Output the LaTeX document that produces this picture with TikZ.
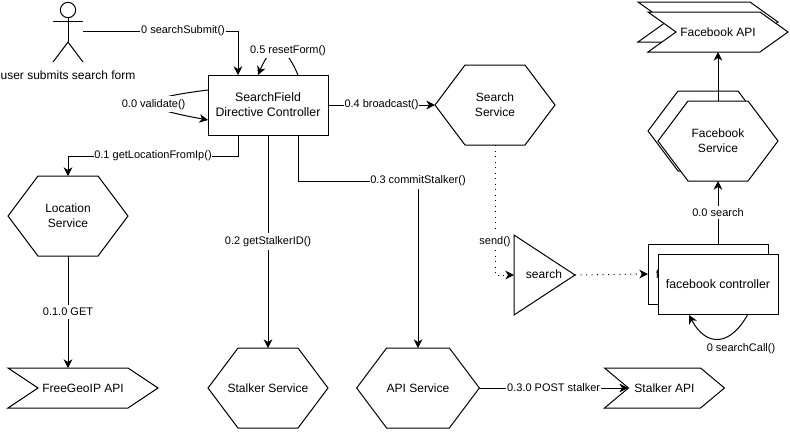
\documentclass[tikz,border=0pt]{standalone}
\usepackage{fontspec}
\setmainfont{Liberation Sans}
\usetikzlibrary{arrows.meta,shapes.symbols,shapes.geometric}
\tikzset{
hexa/.style={shape=signal,signal to=east and west,signal pointer angle=106.26,draw,fill=white,minimum width=90pt,minimum height=60pt,inner sep=0pt,outer sep=0pt,align=center},
apibox/.style={shape=signal,signal from=west,signal to=east,draw,fill=white,minimum height=30pt,inner sep=0pt,outer sep=0pt},
box/.style={draw,fill=white,minimum width=90pt,minimum height=45pt,inner sep=0pt,outer sep=0pt,align=center,font=\fontsize{9.25}{11.25}\selectfont},
flow/.style={-{Stealth[length=6.5pt,width=6.5pt,inset=2pt]}},
dots/.style={flow,dash pattern=on .75pt off 3.4pt},
lbl/.style={fill=white,inner xsep=.6pt,inner ysep=2.2pt,font=\fontsize{8.25}{10}\selectfont}
}
\begin{document}
\begin{tikzpicture}[x=.75pt,y=-.75pt,font=\fontsize{9}{11.25}\selectfont,line width=.75pt]
\useasboundingbox (0,0) rectangle (790,433);

% actor
\node[draw,circle,minimum size=11.5pt,inner sep=0pt,outer sep=0pt] (head) at (68,10) {};
\coordinate (hip) at (68,42);
\draw (head) -- (hip);
\draw (53,21) -- (83,21);
\draw (53,62) -- (hip) -- (83,62);
\node (user) at (68,75) {user submits search form};
\coordinate (hand) at (83,31);

% main nodes
\node[box] (ctrl) at (268,105) {SearchField\\Directive Controller};
\foreach \p/\n/\t in {68/loc/{Location\\Service},268/stalker/{\makebox[0pt]{Stalker Service}},418/apisrv/{API Service}}
\node[hexa] (\n) at (\p,{\p==68 ? 216 : 388}) {\t};
\node[hexa] (srch) at (495,105) {Search\\Service};
\node[hexa] (fbback) at (708,131) {};
\node[hexa] (fbsrv) at (718,141) {Facebook\\Service};

\node[apibox,minimum width=112.5pt,signal pointer angle=67.38] (geo) at (83,388) {FreeGeoIP API};
\node[apibox,minimum width=90pt,signal pointer angle=79.6] (stalkapi) at (664.5,388) {Stalker API};
\node[apibox,minimum width=105pt,signal pointer angle=71.07] (fbapiback) at (708,22) {};
\node[apibox,minimum width=105pt,signal pointer angle=71.07] (fbapi) at (718,32) {Facebook API};

\node[draw,fill=white,shape=isosceles triangle,isosceles triangle stretches,minimum width=60pt,minimum height=45.75pt,inner sep=0pt,outer sep=0pt,anchor=apex] (tri) at (575,275) {};
\node (trilabel) at (544,274) {search};

\node[box] (fbback2) at (708,274) {};
\node[inner sep=0pt] (fbletter) at (657.5,274) {f};
\node[box] (fbctrl) at (718,284) {facebook controller};

% anchor points on the box edges
\coordinate (ctrlA) at (238,75);
\coordinate (ctrlB) at (258,75);
\coordinate (ctrlC) at (298,75);
\coordinate (ctrlD) at (208,90);
\coordinate (ctrlE) at (208,120);
\coordinate (ctrlF) at (238,135);
\coordinate (ctrlG) at (298,135);
\coordinate (fbtop) at (718,244);
\coordinate (loopA) at (748,314);
\coordinate (loopB) at (689,315);

% connectors
\draw[flow] (hand) -- (238,31) node[lbl,pos=.645] (lsubmit) {0 searchSubmit()} -- (ctrlA);
\draw[flow] (ctrlC) .. controls (284,42) and (272,42) .. node[lbl,xshift=7.5pt] (lreset) {0.5 resetForm()} (ctrlB);
\draw[flow] (ctrlD) .. controls (128,100) and (143,108) .. node[lbl] (lvalid) {0.0 validate()} (ctrlE);
\draw[flow] (ctrlF) -- (238,156) -- (68,156) node[lbl,pos=.5] (lgetloc) {0.1 getLocationFromIp()} -- (loc.north);
\draw[flow] (loc.south) -- node[lbl] (lget) {0.1.0 GET} (geo.north -| loc.south);
\draw[flow] (ctrl.south) -- node[lbl] (lstalker) {0.2 getStalkerID()} (stalker.north);
\draw[flow] (ctrlG) -- (298,181) -- (418,181) node[lbl,pos=1] (lcommit) {0.3 commitStalker()} -- (apisrv.north);
\draw[flow] (ctrl.east) -- node[lbl] (lbroad) {0.4 broadcast()} (srch.west);
\draw[flow] (apisrv.east) -- node[lbl] (lpost) {0.3.0 POST stalker} (628,388);
\draw[dots] (srch.south) -- (495,275) node[lbl,pos=.74] (lsend) {send()} -- (tri.lower side);
\draw[dots] (tri.apex) -- (fbback2.west);
\draw[flow] (loopA) .. controls (730,347) and (706,347) .. (loopB);
\node[lbl] (lcall) at (741,349) {0 searchCall()};
\draw[flow] (fbtop) -- node[lbl] (lsearch) {0.0 search} (fbsrv.south);
\draw[flow] (fbsrv.north) -- (fbapi.south -| fbsrv.north);

\end{tikzpicture}
\end{document}
